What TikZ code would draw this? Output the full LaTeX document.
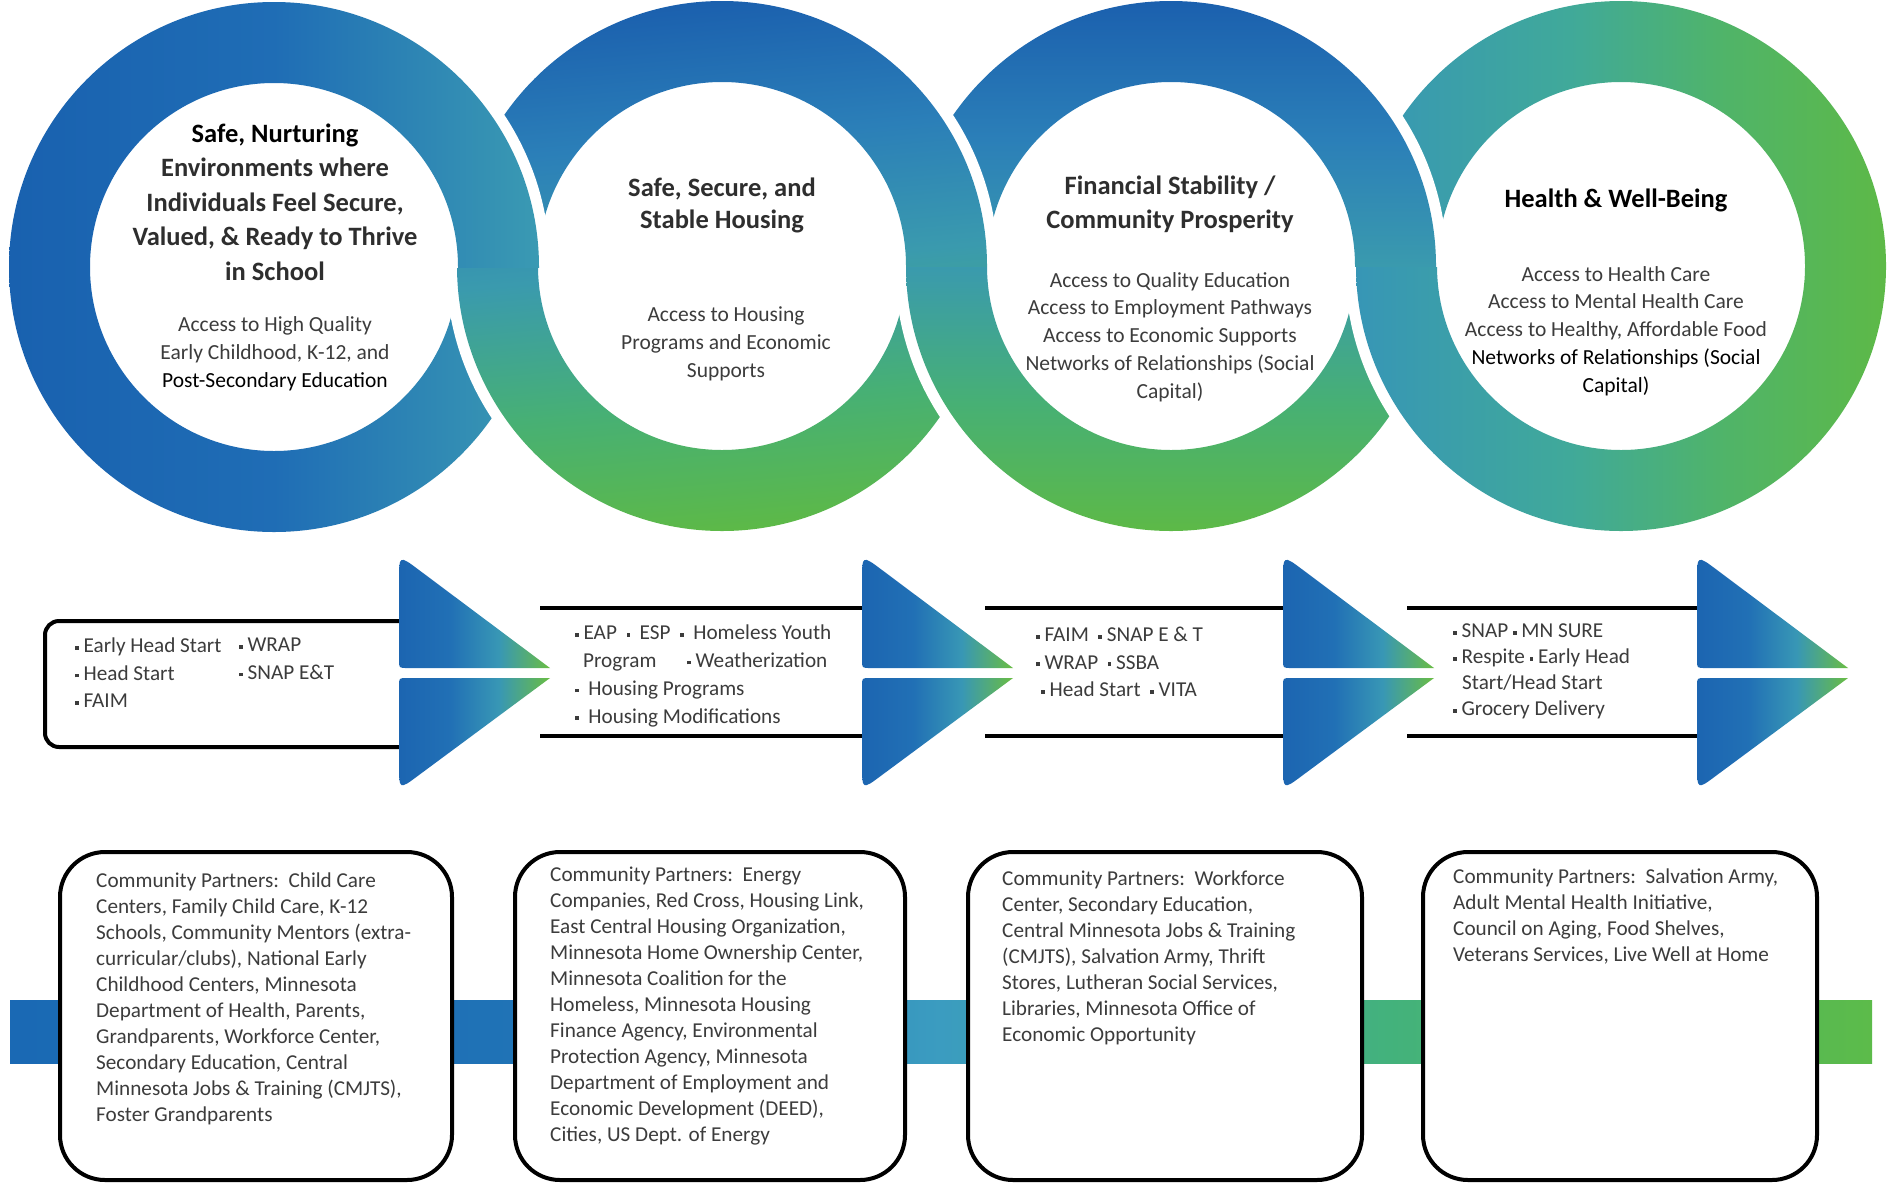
\documentclass[tikz,border=0pt]{standalone}
\usepackage{fontspec}
\setmainfont{Carlito}
\usetikzlibrary{calc}

\definecolor{tgray}{HTML}{3C3C3C}
\definecolor{tdark}{HTML}{2E2E2E}
% ring 1
\definecolor{rA1}{HTML}{1961AF}
\definecolor{rA2}{HTML}{1F6DB5}
\definecolor{rA3}{HTML}{3A9AB3}
% rings 2,3
\definecolor{rB1}{HTML}{5DB947}
\definecolor{rB2}{HTML}{47B074}
\definecolor{rB3}{HTML}{3A9AAE}
\definecolor{rB4}{HTML}{2B7FB8}
\definecolor{rB5}{HTML}{1B60AE}
% ring 4
\definecolor{rD1}{HTML}{3796B6}
\definecolor{rD2}{HTML}{40A99A}
\definecolor{rD3}{HTML}{50B468}
\definecolor{rD4}{HTML}{5DB947}
% arrows
\definecolor{aw1}{HTML}{1C65B1}
\definecolor{aw2}{HTML}{2170B5}
\definecolor{aw3}{HTML}{3897B5}
\definecolor{aw4}{HTML}{6ABD43}
% bar
\definecolor{bb1}{HTML}{1A69B4}
\definecolor{bb2}{HTML}{1F72B6}
\definecolor{bb3}{HTML}{3B9CC0}
\definecolor{bb4}{HTML}{43B27C}
\definecolor{bb5}{HTML}{5CBB4A}

\pgfdeclarehorizontalshading{ringA}{100bp}{color(0bp)=(rA1); color(25bp)=(rA1); color(50bp)=(rA2); color(75bp)=(rA3); color(100bp)=(rA3)}
\pgfdeclareverticalshading{ringB}{100bp}{color(0bp)=(rB1); color(25bp)=(rB1); color(37bp)=(rB2); color(50bp)=(rB3); color(62bp)=(rB4); color(75bp)=(rB5); color(100bp)=(rB5)}
\pgfdeclarehorizontalshading{ringD}{100bp}{color(0bp)=(rD1); color(25bp)=(rD1); color(45bp)=(rD2); color(60bp)=(rD3); color(75bp)=(rD4); color(100bp)=(rD4)}
\pgfdeclarehorizontalshading{arrowsh}{100bp}{color(0bp)=(aw1); color(25bp)=(aw1); color(42bp)=(aw2); color(58bp)=(aw3); color(75bp)=(aw4); color(100bp)=(aw4)}
\pgfdeclarehorizontalshading{barsh}{100bp}{color(0bp)=(bb1); color(25bp)=(bb1); color(38bp)=(bb2); color(50bp)=(bb3); color(62bp)=(bb4); color(75bp)=(bb5); color(100bp)=(bb5)}

\newcommand{\sqb}{\raisebox{0.15em}{\rule{0.17em}{0.17em}}}

\newcommand{\ringdraw}[3]{%
  \fill[white, even odd rule] (#1) circle[radius=276pt] (#1) circle[radius=173pt];
  \shade[shading=#2, shading angle=#3, even odd rule] (#1) circle[radius=265pt] (#1) circle[radius=184pt];}

\newcommand{\chev}[1]{%
  \shade[shading=arrowsh] (#1+151,668) -- (#1+8,668) .. controls (#1,668) .. (#1,660) -- (#1,580) .. controls (#1,555) .. (#1+20,570) -- cycle;
  \shade[shading=arrowsh] (#1+151,678) -- (#1+8,678) .. controls (#1,678) .. (#1,686) -- (#1,765) .. controls (#1,790) .. (#1+20,775) -- cycle;}

\begin{document}
\begin{tikzpicture}[x=1pt,y=-1pt,
  ttl/.style={align=center, inner sep=0pt, font=\fontsize{26.5}{34.4}\selectfont\bfseries, text=tdark},
  sub/.style={align=center, inner sep=0pt, font=\fontsize{21.5}{27.8}\selectfont, text=tgray},
  lst/.style={align=left, anchor=north west, inner sep=0pt, font=\fontsize{21.2}{27.5}\selectfont, text=tgray},
  ptxt/.style={align=left, anchor=north west, inner sep=0pt, font=\fontsize{21.2}{26}\selectfont, text=tgray},
  blk/.style={draw=black, line width=4pt},
  pbox/.style={draw=black, line width=4pt, fill=white, rounded corners=45pt},
]
\useasboundingbox (0,0) rectangle (1894,1184);
\fill[white] (0,0) rectangle (1894,1184);

% ---------- interlocking rings ----------
\coordinate (c1) at (274,267);
\coordinate (c2) at (722,266);
\coordinate (c3) at (1171,266);
\coordinate (c4) at (1621,266);

\ringdraw{c1}{ringA}{0}
\ringdraw{c2}{ringB}{5}
\begin{scope}\clip (330,-20) rectangle (664,267); \ringdraw{c1}{ringA}{0}\end{scope}
\ringdraw{c3}{ringB}{0}
\begin{scope}\clip (782,-20) rectangle (1111,266); \ringdraw{c2}{ringB}{5}\end{scope}
\ringdraw{c4}{ringD}{0}
\begin{scope}\clip (1231,-20) rectangle (1561,266); \ringdraw{c3}{ringB}{0}\end{scope}

% ring texts
\node[ttl] (t1) at (275,202) {{\color{black}Safe, Nurturing}\\Environments where\\Individuals Feel Secure,\\Valued, \& Ready to Thrive\\in School};
\node[sub] (s1) at (275,354) {Access to High Quality\\Early Childhood, K-12, and\\{\color{black}Post-Secondary Education}};

\node[ttl, font=\fontsize{26.5}{32}\selectfont\bfseries] (t2) at (722,205) {Safe, Secure, and\\Stable Housing};
\node[sub] (s2) at (726,344) {Access to Housing\\Programs and Economic\\Supports};

\node[ttl] (t3) at (1170,204) {Financial Stability /\\Community Prosperity};
\node[sub] (s3) at (1170,337) {Access to Quality Education\\Access to Employment Pathways\\Access to Economic Supports\\Networks of Relationships (Social\\Capital)};

\node[ttl, text=black] (t4) at (1616,200) {Health \& Well-Being};
\node[sub] (s4) at (1616,331) {Access to Health Care\\Access to Mental Health Care\\Access to Healthy, Affordable Food\\{\color{black}Networks of Relationships (Social}\\{\color{black}Capital)}};

% ---------- middle row ----------
\draw[blk, rounded corners=14pt] (405,621) -- (45,621) -- (45,747) -- (405,747);
\draw[blk] (540,608) -- (868,608);
\draw[blk] (540,736) -- (868,736);
\draw[blk] (985,608) -- (1289,608);
\draw[blk] (985,736) -- (1289,736);
\draw[blk] (1407,608) -- (1703,608);
\draw[blk] (1407,736) -- (1703,736);

\chev{399}
\chev{862}
\chev{1283}
\chev{1697}

\node[lst] (m1a) at (75,638) {\sqb\ Early Head Start\\\sqb\ Head Start\\\sqb\ FAIM};
\node[lst] (m1b) at (239,638) {\sqb\ WRAP\\\sqb\ SNAP E\&T};
\node[lst, font=\fontsize{21.2}{27.7}\selectfont] (m2) at (575,625) {\sqb\ EAP \ \sqb\ \ ESP \ \sqb\ \ Homeless Youth\\\hspace*{8pt}Program \quad\ \sqb\ Weatherization\\\sqb\ \ Housing Programs\\\sqb\ \ Housing Modifications};
\node[lst] (m3) at (1036,627) {\sqb\ FAIM \ \sqb\ SNAP E \& T\\\sqb\ WRAP \ \sqb\ SSBA\\\hspace*{5pt}\sqb\ Head Start \ \sqb\ VITA};
\node[lst, font=\fontsize{21.2}{26}\selectfont] (m4) at (1453,624) {\sqb\ SNAP \sqb\ MN SURE\\\sqb\ Respite \sqb\ Early Head\\\hspace*{9pt}Start/Head Start\\\sqb\ Grocery Delivery};

% ---------- bottom row ----------
\shade[shading=barsh] (10,1000) rectangle (1872,1063);
\draw[pbox] (60,852) rectangle (452,1180);
\draw[pbox] (515,852) rectangle (905,1180);
\draw[pbox] (968,852) rectangle (1362,1180);
\draw[pbox] (1423,852) rectangle (1817,1180);

\node[ptxt] (pA) at (96,873) {Community Partners:\ \ Child Care\\Centers, Family Child Care, K-12\\Schools, Community Mentors (extra-\\curricular/clubs), National Early\\Childhood Centers, Minnesota\\Department of Health, Parents,\\Grandparents, Workforce Center,\\Secondary Education, Central\\Minnesota Jobs \& Training (CMJTS),\\Foster Grandparents};
\node[ptxt] (pB) at (550,867) {Community Partners:\ \ Energy\\Companies, Red Cross, Housing Link,\\East Central Housing Organization,\\Minnesota Home Ownership Center,\\Minnesota Coalition for the\\Homeless, Minnesota Housing\\Finance Agency, Environmental\\Protection Agency, Minnesota\\Department of Employment and\\Economic Development (DEED),\\Cities, US Dept. of Energy};
\node[ptxt] (pC) at (1002,871) {Community Partners:\ \ Workforce\\Center, Secondary Education,\\Central Minnesota Jobs \& Training\\(CMJTS), Salvation Army, Thrift\\Stores, Lutheran Social Services,\\Libraries, Minnesota Office of\\Economic Opportunity};
\node[ptxt] (pD) at (1453,869) {Community Partners:\ \ Salvation Army,\\Adult Mental Health Initiative,\\Council on Aging, Food Shelves,\\Veterans Services, Live Well at Home};
\end{tikzpicture}
\end{document}
